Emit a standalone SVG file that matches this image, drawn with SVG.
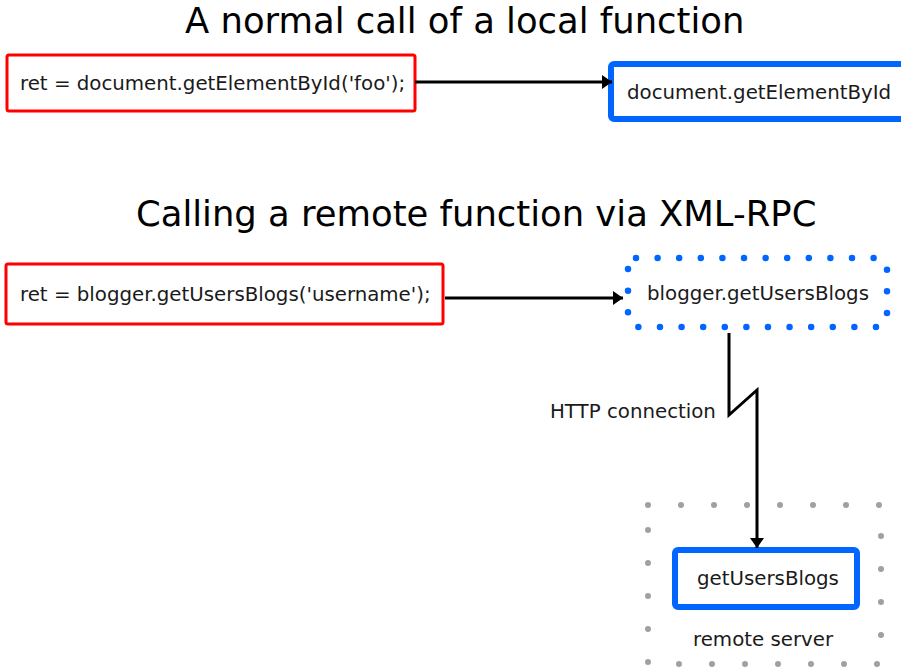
<svg xmlns="http://www.w3.org/2000/svg" width="901" height="672" viewBox="0 0 901 672">
<style>
text{font-family:"DejaVu Sans","Liberation Sans",sans-serif;fill:#1a1a1a}
.t{font-size:19.8px}
.h{font-size:35.4px;fill:#000}
.red{fill:#fff;stroke:#ff0000;stroke-width:3}
.blue{fill:#fff;stroke:#0066ff;stroke-width:6}
.line{fill:none;stroke:#000;stroke-width:3}
</style>
<defs>
<marker id="ah" viewBox="0 0 10 14" refX="10" refY="7" markerWidth="10" markerHeight="14" markerUnits="userSpaceOnUse" orient="auto">
<path d="M0,0 L10,7 L0,14 z" fill="#000"/>
</marker>
</defs>
<rect width="901" height="672" fill="#fff"/>
<text class="h" x="185" y="33">A normal call of a local function</text>
<text class="h" x="136" y="226">Calling a remote function via XML-RPC</text>
<g id="remote-server">
<rect x="648" y="505" width="233" height="159" fill="none" stroke="#a0a0a0" stroke-width="6" stroke-linecap="round" stroke-dasharray="0 33"/>
<text class="t" x="693" y="646">remote server</text>
</g>
<g id="call-local">
<rect class="red" x="7" y="55" width="408" height="56" rx="2"/>
<text class="t" x="20" y="90">ret = document.getElementById('foo');</text>
</g>
<g id="local-fn">
<rect class="blue" x="611" y="64" width="300" height="55" rx="3"/>
<text class="t" x="627" y="98.5">document.getElementById</text>
</g>
<g id="call-remote">
<rect class="red" x="6" y="264" width="437" height="60" rx="2"/>
<text class="t" x="20" y="301">ret = blogger.getUsersBlogs('username');</text>
</g>
<g id="proxy-fn">
<rect x="628" y="258" width="259" height="69" rx="8" fill="none" stroke="#0066ff" stroke-width="6.5" stroke-linecap="round" stroke-dasharray="0 21.6"/>
<text class="t" x="647" y="300">blogger.getUsersBlogs</text>
</g>
<g id="remote-fn">
<rect class="blue" x="675" y="550" width="182" height="57" rx="3"/>
<text class="t" x="697" y="585">getUsersBlogs</text>
</g>
<g id="connectors">
<line class="line" x1="415" y1="82" x2="612" y2="82" marker-end="url(#ah)"/>
<line class="line" x1="445" y1="298" x2="623" y2="298" marker-end="url(#ah)"/>
<polyline class="line" points="729,333 729,415 757,390 757,548" marker-end="url(#ah)"/>
<text class="t" x="550" y="418">HTTP connection</text>
</g>
</svg>
